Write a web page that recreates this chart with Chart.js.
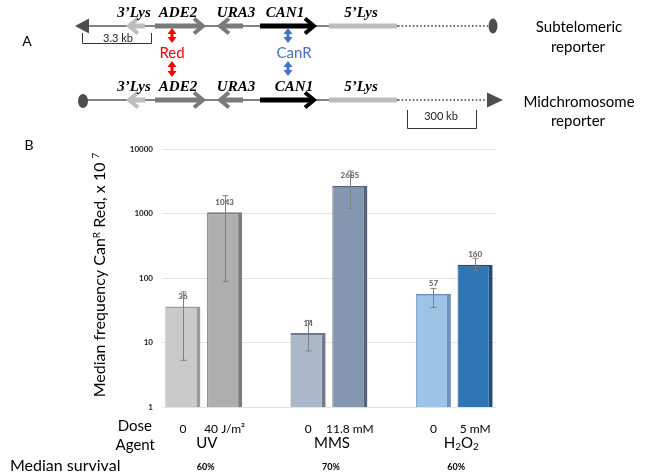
<!DOCTYPE html>
<html><head><meta charset="utf-8">
<script src="https://cdn.jsdelivr.net/npm/chart.js@4/dist/chart.umd.min.js"></script>
<style>html,body{margin:0;padding:0;background:#fff;} #wrap{width:646px;height:476px;position:relative;}</style>
</head><body><div id="wrap"><canvas id="c" width="646" height="476"></canvas></div>
<script>
// ---- data ----
const categories = ['0', '40 J/m²', '', '0', '11.8 mM', '', '0', '5 mM'];
const medianFreq = [36, 1043, null, 14, 2685, null, 57, 160];
const errLow  = [5.3, 88, null, 7.4, 1205, null, 35, 130];
const errHigh = [61, 1888, null, 22, 4560, null, 69, 202];
const yTicks = [1, 10, 100, 1000, 10000];
const agents = ['UV', 'MMS', 'H2O2'];
const survival = ['60%', '70%', '60%'];
const groupIdx = [[0, 1], [3, 4], [6, 7]];

const barFill   = ['#c9c9c9', '#afafaf', null, '#abb8ca', '#8497b0', null, '#9dc3e6', '#2e75b6'];
const barBorder = ['#9b9b9b', '#7c7c7c', null, '#6f7b8c', '#56637a', null, '#6b93bb', '#1f4e79'];

const SANS = 'Lato, "Open Sans", sans-serif';

function txt(ctx, s, x, y, font, color, align, base) {
  ctx.font = font; ctx.fillStyle = color || '#000';
  ctx.textAlign = align || 'center'; ctx.textBaseline = base || 'middle';
  ctx.fillText(s, x, y);
}

function chevronArrow(ctx, xTail, xTip, y, color) {
  const d = Math.sign(xTip - xTail);
  ctx.save();
  ctx.strokeStyle = color; ctx.lineCap = 'butt'; ctx.lineJoin = 'miter';
  ctx.lineWidth = 5;
  ctx.beginPath(); ctx.moveTo(xTail, y); ctx.lineTo(xTip - d * 3, y); ctx.stroke();
  ctx.lineWidth = 4;
  ctx.beginPath(); ctx.moveTo(xTip - d * 11, y - 7.5); ctx.lineTo(xTip - d * 2, y); ctx.lineTo(xTip - d * 11, y + 7.5); ctx.stroke();
  ctx.restore();
}
function vArrow(ctx, x, y1, y2, color) {
  ctx.save();
  ctx.fillStyle = color; ctx.strokeStyle = color;
  ctx.lineWidth = 3;
  ctx.beginPath(); ctx.moveTo(x, y1 + 4); ctx.lineTo(x, y2 - 4); ctx.stroke();
  ctx.beginPath(); ctx.moveTo(x, y1); ctx.lineTo(x - 4.5, y1 + 6); ctx.lineTo(x + 4.5, y1 + 6); ctx.closePath(); ctx.fill();
  ctx.beginPath(); ctx.moveTo(x, y2); ctx.lineTo(x - 4.5, y2 - 6); ctx.lineTo(x + 4.5, y2 - 6); ctx.closePath(); ctx.fill();
  ctx.restore();
}
function geneRow(ctx, y, labelY, can1X) {
  // backbone
  ctx.save();
  ctx.strokeStyle = '#5a5a5a'; ctx.lineWidth = 1.3;
  ctx.beginPath(); ctx.moveTo(86, y); ctx.lineTo(398, y); ctx.stroke();
  ctx.strokeStyle = '#333'; ctx.lineWidth = 1.6; ctx.setLineDash([1.5, 2.2]);
  ctx.beginPath(); ctx.moveTo(398, y); ctx.lineTo(488, y); ctx.stroke();
  ctx.restore();
  chevronArrow(ctx, 145, 127, y, '#bdbdbd');
  chevronArrow(ctx, 155, 205, y, '#7a7a7a');
  chevronArrow(ctx, 243, 218, y, '#7a7a7a');
  chevronArrow(ctx, 260, 316, y, '#000');
  ctx.save(); ctx.strokeStyle = '#bdbdbd'; ctx.lineWidth = 5;
  ctx.beginPath(); ctx.moveTo(329, y); ctx.lineTo(397, y); ctx.stroke(); ctx.restore();
  const f = 'bold italic 15px "Liberation Serif", "DejaVu Serif", serif';
  txt(ctx, '3\u2019Lys', 134, labelY, f);
  txt(ctx, 'ADE2', 178, labelY, f);
  txt(ctx, 'URA3', 236, labelY, f);
  txt(ctx, 'CAN1', can1X, labelY, f);
  txt(ctx, '5\u2019Lys', 361, labelY, f);
}

const diagramPlugin = {
  id: 'diagram',
  afterDraw(chart) {
    const ctx = chart.ctx;
    ctx.save();
    txt(ctx, 'A', 27, 41, '14px ' + SANS, '#000');
    txt(ctx, 'B', 29, 145, '14px ' + SANS, '#000');
    // top row (subtelomeric)
    geneRow(ctx, 26, 13, 285);
    ctx.fillStyle = '#4d4d4d';
    ctx.beginPath(); ctx.moveTo(89, 18.5); ctx.lineTo(89, 33.5); ctx.lineTo(75, 26); ctx.closePath(); ctx.fill();
    ctx.beginPath(); ctx.ellipse(493, 26, 4.5, 7.5, 0, 0, Math.PI * 2); ctx.fill();
    // bracket 3.3 kb
    ctx.strokeStyle = '#333'; ctx.lineWidth = 1;
    ctx.beginPath(); ctx.moveTo(82.5, 33); ctx.lineTo(82.5, 43.5); ctx.lineTo(151.5, 43.5); ctx.lineTo(151.5, 33); ctx.stroke();
    txt(ctx, '3.3 kb', 118, 38, '11px ' + SANS, '#222');
    // bottom row (midchromosome)
    geneRow(ctx, 100, 87, 294);
    ctx.fillStyle = '#4d4d4d';
    ctx.beginPath(); ctx.ellipse(83, 101, 5, 7, 0, 0, Math.PI * 2); ctx.fill();
    ctx.beginPath(); ctx.moveTo(487, 92.5); ctx.lineTo(487, 107.5); ctx.lineTo(503, 100); ctx.closePath(); ctx.fill();
    ctx.strokeStyle = '#333'; ctx.lineWidth = 1;
    ctx.beginPath(); ctx.moveTo(407.5, 110); ctx.lineTo(407.5, 128.5); ctx.lineTo(476.5, 128.5); ctx.lineTo(476.5, 110); ctx.stroke();
    txt(ctx, '300 kb', 441, 116, '11px ' + SANS, '#222');
    // Red / CanR arrows
    vArrow(ctx, 172, 28, 43, '#ff0000');
    txt(ctx, 'Red', 172, 53, '15px ' + SANS, '#ff0000');
    vArrow(ctx, 172, 61, 77, '#ff0000');
    vArrow(ctx, 288, 28, 43, '#4472c4');
    txt(ctx, 'CanR', 294, 53, '15px ' + SANS, '#4472c4');
    vArrow(ctx, 288, 61, 76, '#4472c4');
    // right labels
    const rf = '15px ' + SANS;
    txt(ctx, 'Subtelomeric', 579, 27, rf);
    txt(ctx, 'reporter', 578, 47, rf);
    txt(ctx, 'Midchromosome', 579, 102, rf);
    txt(ctx, 'reporter', 578, 121, rf);
    ctx.restore();
  }
};

const errorPlugin = {
  id: 'errs',
  afterDatasetsDraw(chart) {
    const ctx = chart.ctx, y = chart.scales.y, meta = chart.getDatasetMeta(0);
    ctx.save();
    // value labels
    meta.data.forEach((bar, i) => {
      if (medianFreq[i] == null) return;
      txt(ctx, String(medianFreq[i]), bar.x, bar.y - 10, 'bold 8px ' + SANS, '#595959');
    });
    ctx.strokeStyle = '#808080'; ctx.lineWidth = 1;
    meta.data.forEach((bar, i) => {
      if (medianFreq[i] == null) return;
      const x = Math.round(bar.x) + 0.5;
      const yl = y.getPixelForValue(errLow[i]), yh = y.getPixelForValue(errHigh[i]);
      ctx.beginPath();
      ctx.moveTo(x, yl); ctx.lineTo(x, yh);
      ctx.moveTo(x - 3, yl); ctx.lineTo(x + 3, yl);
      ctx.moveTo(x - 3, yh); ctx.lineTo(x + 3, yh);
      ctx.stroke();
    });
    ctx.restore();
  }
};

const textPlugin = {
  id: 'texts',
  afterDraw(chart) {
    const ctx = chart.ctx, xs = chart.scales.x;
    ctx.save();
    // y axis title with superscripts
    ctx.translate(99, 275);
    ctx.rotate(-Math.PI / 2);
    const mf = '16px ' + SANS, sf = '10px ' + SANS;
    const parts = [['Median frequency Can', mf, 0], ['R', sf, -5], [' Red, x 10 ', mf, 0], ['7', sf, -6]];
    let total = 0;
    parts.forEach(p => { ctx.font = p[1]; total += ctx.measureText(p[0]).width; });
    let cx = -total / 2;
    parts.forEach(p => { ctx.font = p[1]; ctx.fillStyle = '#000'; ctx.textAlign = 'left'; ctx.textBaseline = 'alphabetic'; ctx.fillText(p[0], cx, 6 + p[2]); cx += ctx.measureText(p[0]).width; });
    ctx.restore();
    ctx.save();
    txt(ctx, 'Dose', 152, 426, '15px ' + SANS, '#000', 'right');
    txt(ctx, 'Agent', 155, 445, '15px ' + SANS, '#000', 'right');
    txt(ctx, 'Median survival', 10, 466, '16px ' + SANS, '#000', 'left');
    groupIdx.forEach((g, k) => {
      const c = (xs.getPixelForValue(g[0]) + xs.getPixelForValue(g[1])) / 2;
      if (agents[k] === 'H2O2') {
        const big = '15px ' + SANS, small = '10px ' + SANS;
        const segs = [['H', big, 0], ['2', small, 4], ['O', big, 0], ['2', small, 4]];
        let w = 0; segs.forEach(s => { ctx.font = s[1]; w += ctx.measureText(s[0]).width; });
        let x0 = c + 7 - w / 2;
        segs.forEach(s => { ctx.font = s[1]; ctx.fillStyle = '#000'; ctx.textAlign = 'left'; ctx.textBaseline = 'middle'; ctx.fillText(s[0], x0, 443 + s[2]); x0 += ctx.measureText(s[0]).width; });
      } else {
        txt(ctx, agents[k], c + 3, 443, '15px ' + SANS, '#000');
      }
      txt(ctx, survival[k], c + 2, 467, 'bold 9px ' + SANS, '#000');
    });
    ctx.restore();
  }
};

new Chart(document.getElementById('c'), {
  type: 'bar',
  data: {
    labels: categories,
    datasets: [{
      data: medianFreq,
      backgroundColor: barFill,
      borderColor: barBorder,
      borderWidth: { top: 2, right: 4, left: 1, bottom: 0 },
      borderSkipped: false,
      barPercentage: 0.84,
      categoryPercentage: 1.0
    }]
  },
  options: {
    responsive: false,
    devicePixelRatio: 1,
    animation: false,
    layout: { padding: { left: 0, right: 150, top: 149, bottom: 0 } },
    plugins: { legend: { display: false }, tooltip: { enabled: false } },
    scales: {
      x: {
        grid: { display: false },
        border: { display: false },
        ticks: { color: '#000', font: { family: SANS, size: 12 }, padding: 7, maxRotation: 0, autoSkip: false },
        afterFit: s => { s.height = 69; }
      },
      y: {
        type: 'logarithmic',
        min: 1, max: 10000,
        grid: { color: '#e2e2e2', drawTicks: false },
        border: { display: false },
        afterBuildTicks: s => { s.ticks = yTicks.map(v => ({ value: v })); },
        ticks: { color: '#222', font: { family: SANS, size: 8, weight: 'bold' }, padding: 9, callback: v => String(v) },
        afterFit: s => { s.width = 162; }
      }
    }
  },
  plugins: [errorPlugin, textPlugin, diagramPlugin]
});
</script>
</body></html>
